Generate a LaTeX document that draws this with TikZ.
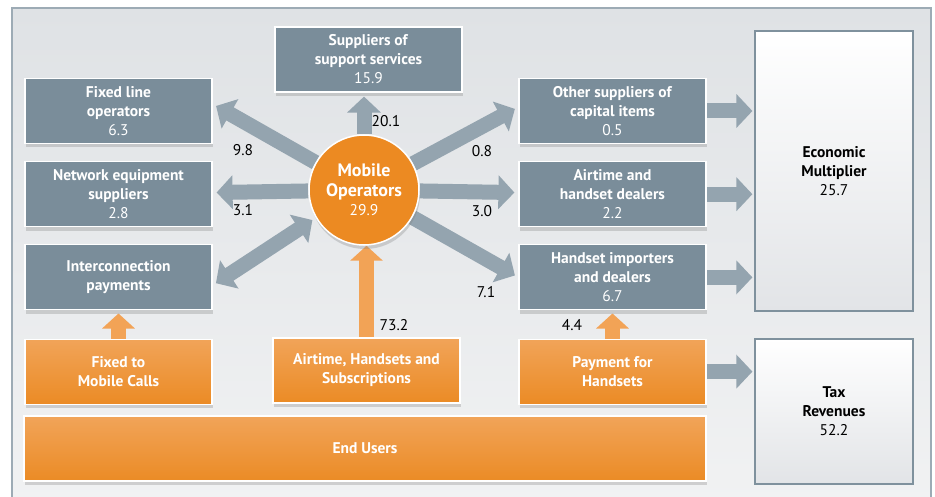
\documentclass[tikz,border=0pt]{standalone}
\usepackage{fontspec}
\setmainfont{PT Sans}
\usetikzlibrary{positioning,arrows.meta,shadows,backgrounds,calc}
\definecolor{boxGray}{HTML}{7A8D9A}
\definecolor{arrowGray}{HTML}{94A4AF}
\definecolor{orangeTop}{HTML}{F1A459}
\definecolor{orangeBot}{HTML}{EB8B25}
\definecolor{arrowOrange}{HTML}{F2A356}
\definecolor{circleOrange}{HTML}{EC8A22}
\definecolor{frameTop}{HTML}{DFE2E5}
\definecolor{frameBot}{HTML}{F1F2F3}
\definecolor{frameBorder}{HTML}{9DABB5}
\definecolor{multBorder}{HTML}{7F919D}
\definecolor{multBot}{HTML}{E2E4E7}

\begin{document}
\begin{tikzpicture}[x=1pt,y=-1pt,
  node distance=17pt,
  every node/.style={font=\fontsize{15.5}{19}\selectfont},
  gbox/.style={draw=white,line width=1.2pt,fill=boxGray,text=white,align=center,
    minimum width=187pt,minimum height=65pt,inner sep=2pt,
    drop shadow={shadow xshift=1pt,shadow yshift=-4pt,opacity=0.3}},
  obox/.style={gbox,top color=orangeTop,bottom color=orangeBot},
  wbox/.style={draw=multBorder,line width=1.2pt,top color=white,bottom color=multBot,
    text=black,align=center,minimum width=158pt},
  mcircle/.style={circle,draw=white,line width=1.5pt,fill=circleOrange,text=white,
    align=center,minimum size=110pt,font=\fontsize{18}{19.5}\selectfont,
    drop shadow={shadow xshift=1pt,shadow yshift=-4pt,opacity=0.3}},
  garr/.style={draw=arrowGray,line width=15pt,-{Triangle[length=16pt,width=33pt]},shorten >=4pt},
  oarr/.style={draw=arrowOrange,line width=15pt,-{Triangle[length=15pt,width=32pt]}},
  lbl/.style={text=black,inner sep=1pt}
]
  \useasboundingbox (0,0) rectangle (935,497);

  % --- frame ---
  \begin{scope}[on background layer]
    \fill[white] (0,0) rectangle (935,497);
    \draw[frameBorder,line width=1.5pt,top color=frameTop,bottom color=frameBot] (12,8) rectangle (931,505);
  \end{scope}

  % --- centre ---
  \node[mcircle] (mo) at (364,190) {\textbf{Mobile}\\\textbf{Operators}\\{\fontsize{15.5}{19}\selectfont 29.9}};

  % --- left column ---
  \node[gbox] (fixl) at (118.5,111) {\textbf{Fixed line}\\\textbf{operators}\\6.3};
  \node[gbox,below=of fixl] (net) {\textbf{Network equipment}\\\textbf{suppliers}\\2.8};
  \node[gbox,below=of net] (intc) {\textbf{Interconnection}\\\textbf{payments}};
  \node[obox,below=28pt of intc] (ftm) {\textbf{Fixed to}\\\textbf{Mobile Calls}};

  % --- top ---
  \node[gbox] (sup) at (368.5,59.5) {\textbf{Suppliers of}\\\textbf{support services}\\15.9};

  % --- right column ---
  \node[gbox] (oth) at (612.5,111) {\textbf{Other suppliers of}\\\textbf{capital items}\\0.5};
  \node[gbox,below=of oth] (air) {\textbf{Airtime and}\\\textbf{handset dealers}\\2.2};
  \node[gbox,below=of air] (hdi) {\textbf{Handset importers}\\\textbf{and dealers}\\6.7};
  \node[obox,below=28pt of hdi] (pfh) {\textbf{Payment for}\\\textbf{Handsets}};

  % --- users ---
  \node[obox] (ahs) at (366.5,370.5) {\textbf{Airtime, Handsets and}\\\textbf{Subscriptions}};
  \node[obox,minimum width=682pt] (endu) at (365,448.5) {\textbf{End Users}};

  % --- outcomes ---
  \node[wbox,minimum height=280pt] (ecm) at (834,171) {\textbf{Economic}\\\textbf{Multiplier}\\25.7};
  \node[wbox,minimum height=145pt] (tax) at (834,411.5) {\textbf{Tax}\\\textbf{Revenues}\\52.2};

  % --- flows ---
  \begin{scope}[on background layer]
    \draw[garr] (mo.north) -- (mo.north |- sup.south);
    \draw[garr] (mo) -- ($(fixl.east)+(0,-7)$);
    \draw[garr] (mo) -- (net);
    \draw[garr,{Triangle[length=16pt,width=33pt]}-{Triangle[length=16pt,width=33pt]},shorten <=4pt]
      (mo.210) -- ($(intc.east)+(0,8)$);
    \draw[garr] (mo) -- ($(oth.west)+(0,-4)$);
    \draw[garr] (mo) -- (air);
    \draw[garr] (mo) -- (hdi.west);
    \draw[garr,shorten >=2pt] (oth.east) -- (oth.east -| ecm.west);
    \draw[garr,shorten >=2pt] (air.east) -- (air.east -| ecm.west);
    \draw[garr,shorten >=2pt] (hdi.east) -- (hdi.east -| ecm.west);
    \draw[garr,shorten >=2pt] (pfh.east) -- (pfh.east -| tax.west);
    \draw[oarr] (ahs.north) -- (ahs.north |- mo.south);
    \draw[oarr,shorten >=3pt] (ftm) -- (intc);
    \draw[oarr,shorten >=3pt] (pfh) -- (hdi);
  \end{scope}

  % labels
  \node[lbl] (v201) at (386,121) {20.1};
  \node[lbl] (v98) at (243,150) {9.8};
  \node[lbl] (v31) at (243,210) {3.1};
  \node[lbl] (v08) at (482,151) {0.8};
  \node[lbl] (v30) at (482,211) {3.0};
  \node[lbl] (v71) at (486,292) {7.1};
  \node[lbl] (v732) at (394,325) {73.2};
  \node[lbl] (v44) at (572,325) {4.4};
\end{tikzpicture}
\end{document}
